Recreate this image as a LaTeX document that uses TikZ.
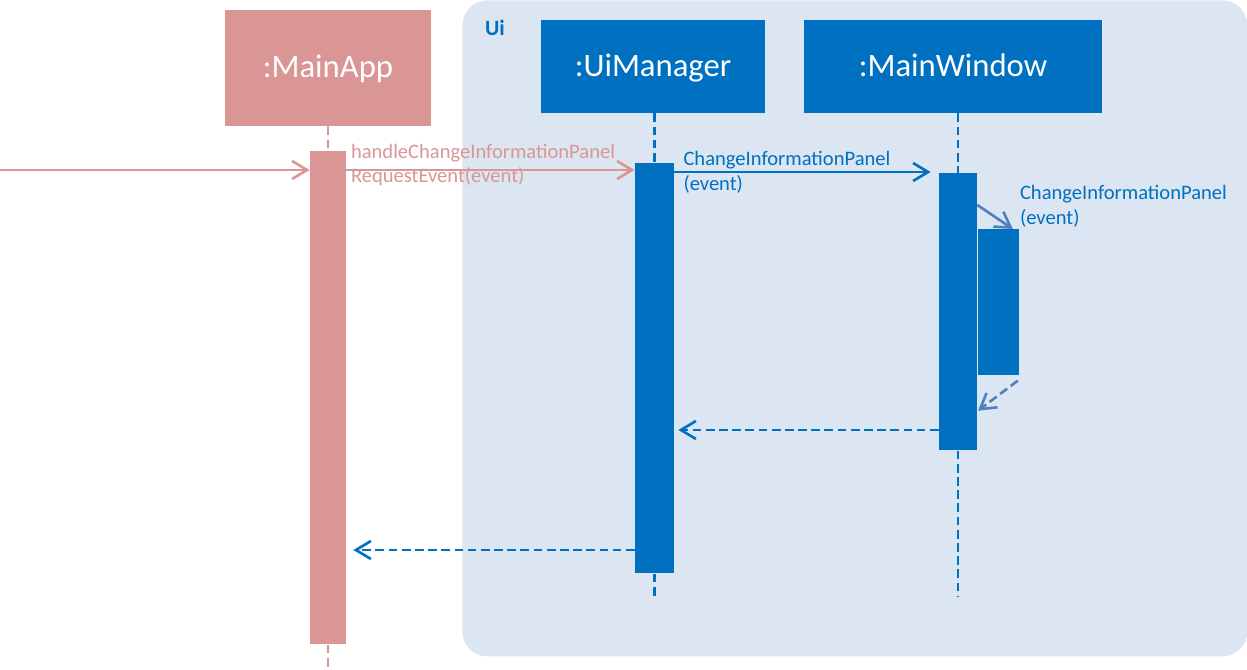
\documentclass[tikz,border=0pt]{standalone}
\usepackage{fontspec}
\setmainfont{Carlito}
\usetikzlibrary{positioning, arrows.meta}
\definecolor{appPink}{HTML}{D99694}
\definecolor{uiBlue}{HTML}{0070C0}
\definecolor{uiBack}{HTML}{DCE6F2}
\definecolor{selfBlue}{HTML}{4F81BD}
\tikzstyle{headNode} = [rectangle, text centered, text=white, text height=11pt, text depth=0pt, font=\fontsize{18.6}{22}\selectfont]
\tikzstyle{headNodeP} = [headNode, fill=appPink, minimum width=4.12cm, minimum height=2.32cm]
\tikzstyle{headNodeB} = [headNode, fill=uiBlue, minimum height=1.86cm]
\tikzstyle{actNode} = [rectangle, anchor=north, inner sep=0pt]
\tikzstyle{actNodeP} = [actNode, fill=appPink, minimum width=0.72cm]
\tikzstyle{actNodeB} = [actNode, fill=uiBlue]
\tikzstyle{pkgNode} = [rectangle, fill=uiBack, rounded corners=0.5cm, anchor=north west, inner sep=0pt]
\tikzstyle{msgText} = [align=left, font=\fontsize{11.7}{14.2}\selectfont]
\tikzstyle{life} = [line width=1.3pt, dash pattern=on 5pt off 2.5pt]
\tikzstyle{lifeP} = [life, draw=appPink]
\tikzstyle{lifeB} = [life, draw=uiBlue]
\tikzstyle{arrowP} = [line width=1.5pt, -{Straight Barb[length=0.3cm, width=0.36cm]}, draw=appPink]
\tikzstyle{arrowB} = [line width=1.5pt, -{Straight Barb[length=0.3cm, width=0.36cm]}, draw=uiBlue]
\tikzstyle{arrowS} = [line width=1.5pt, -{Straight Barb[length=0.3cm, width=0.36cm]}, draw=selfBlue]
\tikzstyle{returnB} = [arrowB, dash pattern=on 5pt off 2.5pt]
\tikzstyle{returnS} = [arrowS, dash pattern=on 5pt off 2.5pt]

\begin{document}
\begin{tikzpicture}[node distance=2cm]
        \useasboundingbox (0,0) rectangle (24.94,-13.4);
        \node (uiPkg) [pkgNode, minimum width=15.7cm, minimum height=13.12cm] at (9.24,0) {};
        \node (uiLabel) [text=uiBlue, font=\bfseries\fontsize{12.5}{15}\selectfont] at (9.9,-0.56) {Ui};

        \node (mainApp) [headNodeP] at (6.56,-1.36) {:MainApp};
        \node (uiMgr) [headNodeB, minimum width=4.48cm, right of=mainApp, xshift=4.5cm, yshift=0.03cm] {:UiManager};
        \node (mainWin) [headNodeB, minimum width=5.96cm, right of=uiMgr, xshift=4cm] {:MainWindow};

        \node (actApp) [actNodeP, minimum height=9.86cm] at (6.56,-3.02) {};
        \node (actUi) [actNodeB, minimum width=0.78cm, minimum height=8.2cm] at (13.09,-3.26) {};
        \node (actWin) [actNodeB, minimum width=0.76cm, minimum height=5.54cm] at (19.16,-3.46) {};
        \node (actSelf) [actNodeB, minimum width=0.82cm, minimum height=2.92cm, anchor=north west] at (19.56,-4.58) {};

        \coordinate (start) at (0,-3.4);
        \coordinate (msgWin) at (0,-3.44);
        \coordinate (retUi) at (0,-8.6);
        \coordinate (retApp) at (0,-11);
        \coordinate (lifeEnd) at (0,-11.94);

        % lifelines
        \draw [lifeP] (mainApp.south) -- (actApp.north);
        \draw [lifeP] (actApp.south) -- ++(0,-0.46);
        \draw [lifeB] (actUi.north |- uiMgr.south) -- (actUi.north);
        \draw [lifeB] (actUi.south) -- (actUi.south |- lifeEnd);
        \draw [lifeB] (actWin.north |- mainWin.south) -- (actWin.north);
        \draw [lifeB] (actWin.south) -- (actWin.south |- lifeEnd);

        \draw [arrowP] (start) -- (start -| actApp.west);
        \draw [arrowP] (start -| actApp.east) -- node[msgText, text=appPink, pos=0, anchor=west, xshift=-0.05cm, yshift=0.1cm] {handleChangeInformationPanel\\RequestEvent(event)} (start -| actUi.west);
        \draw [arrowB, shorten >=0.16cm] (msgWin -| actUi.east) -- node[msgText, text=uiBlue, pos=0, anchor=west, xshift=0.04cm] {ChangeInformationPanel\\(event)} (msgWin -| actWin.west);
        \draw [arrowS] ([yshift=-0.64cm]actWin.north east) -- ([xshift=0.28cm]actSelf.north) node[msgText, text=uiBlue, right, yshift=0.46cm] {ChangeInformationPanel\\(event)};
        \draw [returnS] ([xshift=-0.04cm, yshift=-0.1cm]actSelf.south east) -- ([yshift=-0.7cm]actSelf.south west);
        \draw [returnB, shorten >=0.08cm] (retUi -| actWin.west) -- (retUi -| actUi.east);
        \draw [returnB, shorten >=0.14cm] (retApp -| actUi.west) -- (retApp -| actApp.east);

    \end{tikzpicture}
\end{document}
